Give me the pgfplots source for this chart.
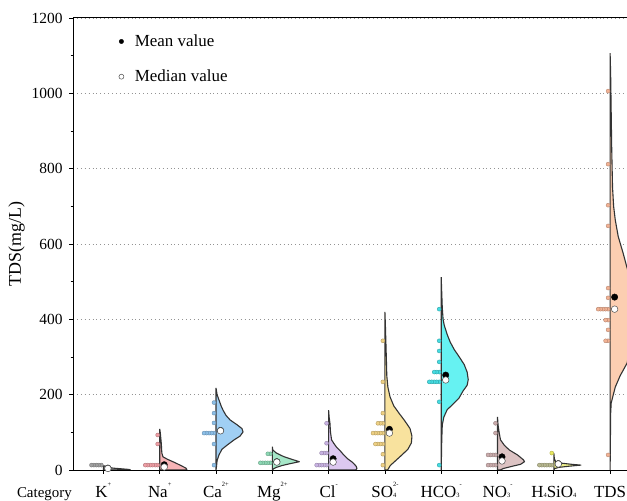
\documentclass[border=0pt]{standalone}
\usepackage{fontspec}
\setmainfont{Liberation Serif}
\usepackage{pgfplots}
\pgfplotsset{compat=1.18}
\usepackage{pgfplotstable}

% fill colours of the half violins and their sample dots
\definecolor{outline}{HTML}{333333}
\definecolor{kfill}{HTML}{B8B8B8}   \definecolor{krug}{HTML}{A0A0A0}
\definecolor{nafill}{HTML}{F6B4B6}  \definecolor{narug}{HTML}{EE9EA4}
\definecolor{cafill}{HTML}{A0CFF4}  \definecolor{carug}{HTML}{8CBFE8}
\definecolor{mgfill}{HTML}{A6E7C8}  \definecolor{mgrug}{HTML}{8DD8B4}
\definecolor{clfill}{HTML}{DCC8F0}  \definecolor{clrug}{HTML}{C8B2E2}
\definecolor{sofill}{HTML}{F8E29E}  \definecolor{sorug}{HTML}{EED083}
\definecolor{hcfill}{HTML}{66F2F2}  \definecolor{hcrug}{HTML}{44DCE2}
\definecolor{nofill}{HTML}{DCC3C3}  \definecolor{norug}{HTML}{C9ABAB}
\definecolor{sifill}{HTML}{EEF08C}  \definecolor{sirug}{HTML}{B8B890}
\definecolor{sitop}{HTML}{E8E860}
\definecolor{tdfill}{HTML}{FCCEB1}  \definecolor{tdrug}{HTML}{F2B294}

\newcommand\yfont{\fontsize{15.5}{18}\selectfont}
\newcommand\xfont{\fontsize{17}{20}\selectfont}
\newcommand\sups[1]{\raisebox{0.62em}{\fontsize{6.5}{7}\selectfont #1}}
\newcommand\subs[1]{\raisebox{-0.05em}{\fontsize{6.5}{7}\selectfont #1}}

% violin outlines: value v, scaled density d (1 = widest)
\pgfplotstableread{
v d
12 0
8 0.10
5 0.35
3 0.70
1.5 0.95
0 1.0
0 0
12 0
}\vK
\pgfplotstableread{
v d
109 0
100 0.02
85 0.04
70 0.06
55 0.07
45 0.08
35 0.12
28 0.30
20 0.55
12 0.78
5 0.97
2 1.0
0 1.0
0 0
109 0
}\vNa
\pgfplotstableread{
v d
218 0
200 0.04
186 0.11
170 0.19
159 0.26
145 0.37
133 0.52
120 0.78
110 0.96
101 1.0
90 0.89
80 0.67
66 0.41
55 0.22
40 0.11
25 0.04
10 0.02
0 0
218 0
}\vCa
\pgfplotstableread{
v d
62 0
53 0.02
45 0.15
35 0.44
28 0.74
22 1.0
17 0.67
12 0.37
7 0.15
3 0.04
0 0
62 0
}\vMg
\pgfplotstableread{
v d
159 0
140 0.02
124 0.05
100 0.07
80 0.11
71 0.19
60 0.30
50 0.44
40 0.56
30 0.70
20 0.89
10 1.02
4 1.05
0 1.0
0 0
159 0
}\vCl
\pgfplotstableread{
v d
420 0
380 0.02
330 0.04
280 0.06
250 0.07
220 0.11
194 0.19
170 0.33
151 0.52
130 0.74
110 0.93
90 1.0
72 0.98
55 0.85
40 0.63
25 0.40
12 0.20
0 0.10
0 0
420 0
}\vSO
\pgfplotstableread{
v d
512 0
470 0.02
430 0.04
400 0.07
385 0.11
360 0.22
340 0.33
320 0.48
300 0.67
280 0.85
260 0.96
240 1.0
225 0.96
210 0.81
190 0.65
173 0.41
160 0.22
141 0.10
120 0.04
80 0.02
0 0
512 0
}\vHC
\pgfplotstableread{
v d
141 0
120 0.02
100 0.06
80 0.11
65 0.26
53 0.44
40 0.74
27 0.96
22 1.0
15 0.85
10 0.55
4 0.22
0 0.10
0 0
141 0
}\vNO
\pgfplotstableread{
v d
45 0
30 0.02
22 0.07
18 0.30
15 0.67
13 1.0
10 0.55
7 0.19
4 0.04
0 0
45 0
}\vSi
\pgfplotstableread{
v d
1107 0
1050 0.02
950 0.04
850 0.06
750 0.09
700 0.13
664 0.19
620 0.30
576 0.48
536 0.63
500 0.78
460 0.93
420 1.0
380 0.96
340 0.81
300 0.67
284 0.63
250 0.37
220 0.19
178 0.04
150 0.02
0 0
1107 0
}\vTDS

% sample values; k = position in a stack of equal values
\pgfplotstableread{
v k
13 0
13 1
13 2
13 3
13 4
}\rK
\pgfplotstableread{
v k
93 0
69 0
13 0
13 1
13 2
13 3
13 4
13 5
}\rNa
\pgfplotstableread{
v k
179 0
151 0
125 0
98 0
98 1
98 2
98 3
98 4
69 0
13 0
}\rCa
\pgfplotstableread{
v k
43 0
43 1
19 0
19 1
19 2
19 3
19 4
}\rMg
\pgfplotstableread{
v k
124 0
71 0
45 0
45 1
45 2
13 0
13 1
13 2
13 3
13 4
}\rCl
\pgfplotstableread{
v k
343 0
234 0
151 0
124 0
124 1
124 2
98 0
98 1
98 2
98 3
98 4
69 0
69 1
69 2
69 3
42 0
13 0
}\rSO
\pgfplotstableread{
v k
427 0
343 0
316 0
287 0
260 0
260 1
260 2
234 0
234 1
234 2
234 3
234 4
181 0
13 0
}\rHC
\pgfplotstableread{
v k
124 0
98 0
40 0
40 1
40 2
40 3
13 0
13 1
13 2
13 3
}\rNO
\pgfplotstableread{
v k
13 0
13 1
13 2
13 3
13 4
13 5
}\rSi
\pgfplotstableread{
v k
45 0
}\rSiTop
\pgfplotstableread{
v k
1006 0
812 0
703 0
648 0
483 0
457 0
427 0
427 1
427 2
427 3
427 4
398 0
398 1
372 0
343 0
343 1
40 0
}\rTDS

% mean and median of each category
\pgfplotstableread{
pos mean median
1 5 4
2 14 8
3 105 104
4 22 21
5 30 21
6 108 98
7 252 239
8 35 24
9 17 16
10 459 427
}\stats

\newcommand\violin[3]{%
  \addplot[forget plot, fill=#2, draw=outline, line width=1.1bp, line join=round]
    table[x expr={#1+0.48*\thisrow{d}}, y=v] {#3};}
\newcommand\rug[3]{%
  \addplot[forget plot, only marks, mark=*, mark size=2bp,
    mark options={fill=#2, draw=#2!75!black, line width=0.4bp}]
    table[x expr={#1-0.036-0.044*\thisrow{k}}, y=v] {#3};}

\begin{document}
\begin{tikzpicture}
\begin{axis}[
  name=ax, at={(0,0)}, anchor=south west,
  scale only axis, width=562bp, height=452bp,
  xmin=0.46, xmax=10.442, ymin=0, ymax=1200,
  clip mode=individual,
  axis line style={line width=1bp, black},
  tick style={line width=0.8bp, black},
  tick align=outside, xtick pos=bottom, ytick pos=left,
  major tick length=4bp, minor tick length=2.5bp,
  ytick={0,200,...,1200}, minor y tick num=1,
  xtick={1,...,10},
  xticklabels={K\sups{+}, Na\sups{+}, Ca\sups{2+}, Mg\sups{2+}, Cl\sups{-},
    SO\rlap{\subs{4}}\sups{2-}, HCO\subs{3}\sups{-}, NO\subs{3}\sups{-},
    H\subs{4}SiO\subs{4}, TDS},
  ymajorgrids, grid style={dash pattern=on 0.9bp off 3bp, gray!85, line width=0.9bp},
  /pgf/number format/assume math mode=true,
  /pgf/number format/1000 sep={},
  yticklabel style={font=\yfont, xshift=-3bp},
  xticklabel style={font=\xfont, anchor=base, yshift=-23bp},
  ylabel={TDS(mg/L)}, ylabel style={font=\fontsize{18}{20}\selectfont},
  legend style={draw=none, fill=none, font=\xfont,
    at={(rel axis cs:0.076,0.972)}, anchor=north west, row sep=18bp,
    /tikz/every odd column/.append style={column sep=9bp}},
  legend cell align=left,
]
\violin{1}{kfill}{\vK}
\violin{2}{nafill}{\vNa}
\violin{3}{cafill}{\vCa}
\violin{4}{mgfill}{\vMg}
\violin{5}{clfill}{\vCl}
\violin{6}{sofill}{\vSO}
\violin{7}{hcfill}{\vHC}
\violin{8}{nofill}{\vNO}
\violin{9}{sifill}{\vSi}
\violin{10}{tdfill}{\vTDS}

\rug{1}{krug}{\rK}
\rug{2}{narug}{\rNa}
\rug{3}{carug}{\rCa}
\rug{4}{mgrug}{\rMg}
\rug{5}{clrug}{\rCl}
\rug{6}{sorug}{\rSO}
\rug{7}{hcrug}{\rHC}
\rug{8}{norug}{\rNO}
\rug{9}{sirug}{\rSi}
\rug{9}{sitop}{\rSiTop}
\rug{10}{tdrug}{\rTDS}

\addplot[only marks, mark=*, mark size=3.2bp, black,
  legend image post style={mark size=2.2bp}]
  table[x expr=\thisrow{pos}+0.08, y=mean] {\stats};
\addlegendentry{Mean value}
\addplot[only marks, mark=*, mark size=3.3bp,
  mark options={fill=white, draw=black!70, line width=0.5bp},
  legend image post style={mark size=2.5bp}]
  table[x expr=\thisrow{pos}+0.08, y=median] {\stats};
\addlegendentry{Median value}
\end{axis}
\node[anchor=base east, font=\fontsize{15}{18}\selectfont, inner xsep=0pt]
  at ([xshift=-1bp, yshift=-27bp]ax.south west) {Category};
\pgfresetboundingbox
\path[use as bounding box] (-73bp,-31bp) rectangle (554bp,470bp);
\end{tikzpicture}
\end{document}
